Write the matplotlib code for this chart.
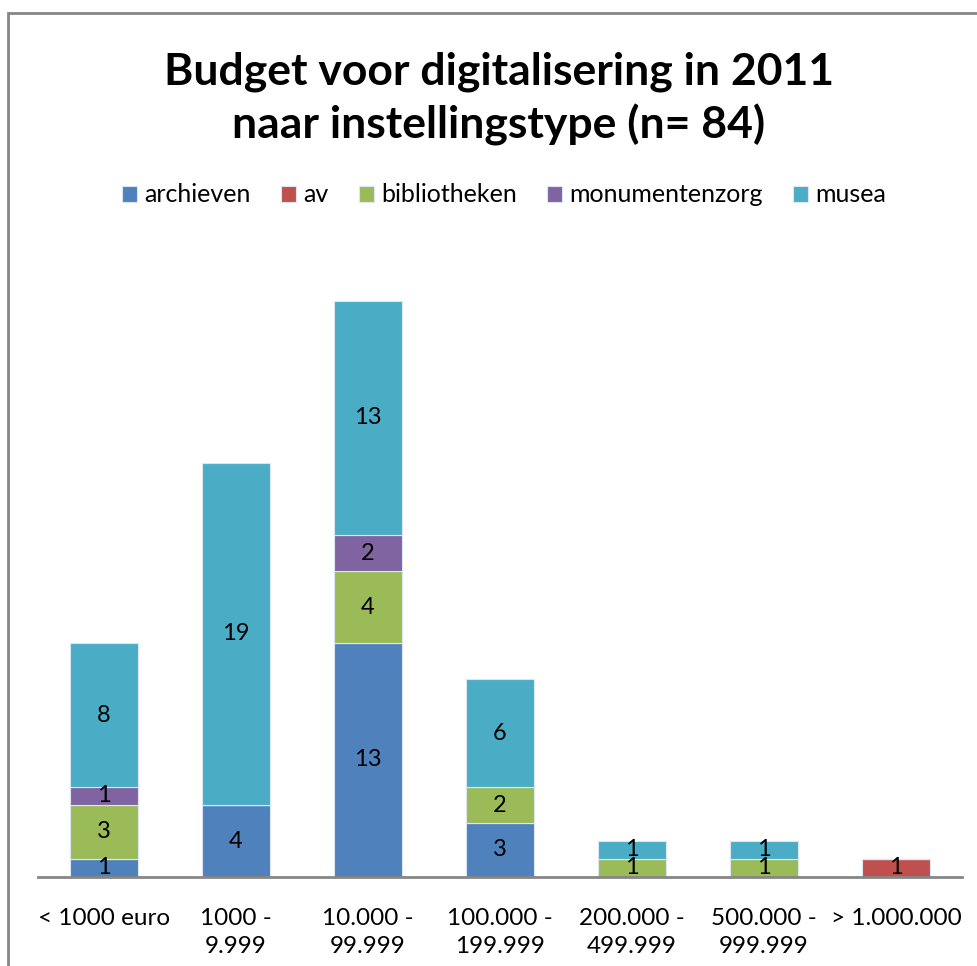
import matplotlib
matplotlib.use('Agg')
import matplotlib.pyplot as plt
from matplotlib.patches import Rectangle
import numpy as np

plt.rcParams['font.family'] = ['Lato', 'DejaVu Sans']

categories = ['< 1000 euro', '1000 -\n9.999', '10.000 -\n99.999', '100.000 -\n199.999',
              '200.000 -\n499.999', '500.000 -\n999.999', '> 1.000.000']
series = ['archieven', 'av', 'bibliotheken', 'monumentenzorg', 'musea']
archieven = [1, 4, 13, 3, 0, 0, 0]
av = [0, 0, 0, 0, 0, 0, 1]
bibliotheken = [3, 0, 4, 2, 1, 1, 0]
monumentenzorg = [1, 0, 2, 0, 0, 0, 0]
musea = [8, 19, 13, 6, 1, 1, 0]
colors = ['#4F81BD', '#C0504D', '#9BBB59', '#8064A2', '#4BACC6']

W, H = 977, 966
fig = plt.figure(figsize=(W / 100, H / 100), dpi=100)
ax = fig.add_axes([38 / W, 89 / H, 924 / W, 630 / H])

x = np.arange(len(categories))
bottom = np.zeros(len(categories))
for name, vals, col in zip(series, [archieven, av, bibliotheken, monumentenzorg, musea], colors):
    vals = np.array(vals, dtype=float)
    ax.bar(x, vals, 0.51, bottom=bottom, color=col, edgecolor='#dce6f2', linewidth=0.8,
           label=name, zorder=2)
    for xi, v, b in zip(x, vals, bottom):
        if v > 0:
            ax.text(xi, b + v / 2, '%d' % v, ha='center', va='center', fontsize=17, zorder=3)
    bottom += vals

ax.set_xlim(-0.5, len(categories) - 0.5)
ax.set_ylim(0, 35)
for s in ['top', 'right', 'left']:
    ax.spines[s].set_visible(False)
ax.spines['bottom'].set_color('#868686')
ax.spines['bottom'].set_linewidth(2)
ax.set_yticks([])
ax.set_xticks(x)
ax.set_xticklabels(categories, fontsize=17.5, linespacing=1.45)
ax.tick_params(axis='x', length=0, pad=22)

fig.text(499 / W, 1 - 99 / H, 'Budget voor digitalisering in 2011\nnaar instellingstype (n= 84)',
         ha='center', va='center', fontsize=32, fontweight='bold', linespacing=1.35)

handles, labels = ax.get_legend_handles_labels()
fig.legend(handles, labels, loc='center', bbox_to_anchor=(504 / W, 1 - 195 / H), ncol=5,
           frameon=False, fontsize=18, handlelength=0.6, handleheight=0.6,
           handletextpad=0.3, columnspacing=1.2)

fig.patches.append(Rectangle((8 / W, -0.1), 1.2, 1 - 13 / H + 0.1, transform=fig.transFigure,
                             fill=False, edgecolor='#868686', linewidth=2))

fig.savefig('out.png', dpi=100)
